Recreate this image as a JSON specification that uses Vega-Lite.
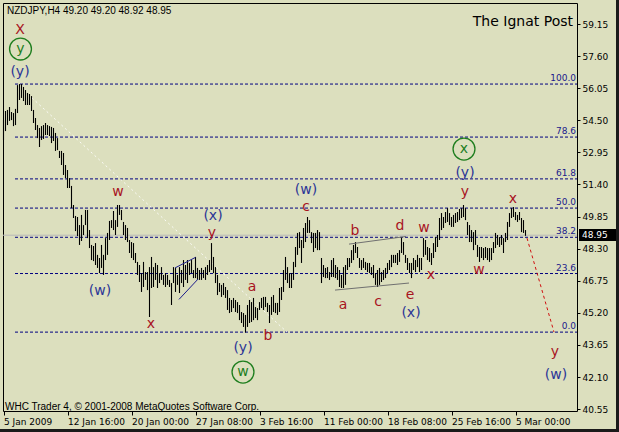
{
"$schema": "https://vega.github.io/schema/vega-lite/v6.json",
"width": 574, "height": 408,
"autosize": {"type": "none"},
"padding": {"left": 3, "top": 3, "right": 42, "bottom": 21},
"background": "#DCDFBE",
"config": {"view": {"stroke": "#000000", "strokeWidth": 1, "fill": "#DCDFBE"}, "font": "DejaVu Sans"},
"datasets": {
"one": [{}],
"bars": [
{"i":0,"h":54.51,"l":53.55},{"i":1,"h":54.95,"l":53.98},{"i":2,"h":55.00,"l":54.27},{"i":3,"h":55.14,"l":54.47},{"i":4,"h":54.90,"l":54.51},{"i":5,"h":54.85,"l":54.22},{"i":6,"h":55.05,"l":54.27},{"i":7,"h":56.20,"l":54.85},{"i":8,"h":56.25,"l":55.48},{"i":9,"h":56.25,"l":55.58},
{"i":10,"h":56.11,"l":55.43},{"i":11,"h":55.96,"l":55.24},{"i":12,"h":55.82,"l":55.24},{"i":13,"h":55.77,"l":55.24},{"i":14,"h":55.67,"l":54.95},{"i":15,"h":55.00,"l":54.37},{"i":16,"h":54.61,"l":54.03},{"i":17,"h":54.27,"l":53.64},{"i":18,"h":54.13,"l":53.21},{"i":19,"h":54.22,"l":53.55},
{"i":20,"h":54.27,"l":53.60},{"i":21,"h":54.37,"l":53.79},{"i":22,"h":54.27,"l":53.79},{"i":23,"h":54.22,"l":53.74},{"i":24,"h":54.18,"l":53.40},{"i":25,"h":54.13,"l":53.50},{"i":26,"h":53.89,"l":53.02},{"i":27,"h":53.64,"l":53.06},{"i":28,"h":53.02,"l":52.68},{"i":29,"h":53.02,"l":52.34},
{"i":30,"h":52.92,"l":51.86},{"i":31,"h":52.34,"l":51.71},{"i":32,"h":52.10,"l":51.23},{"i":33,"h":51.71,"l":51.23},{"i":34,"h":51.33,"l":50.26},{"i":35,"h":50.41,"l":49.78},{"i":36,"h":49.88,"l":49.15},{"i":37,"h":49.83,"l":48.91},{"i":38,"h":49.44,"l":48.48},{"i":39,"h":49.93,"l":48.67},
{"i":40,"h":49.44,"l":48.96},{"i":41,"h":50.17,"l":49.44},{"i":42,"h":50.17,"l":48.81},{"i":43,"h":49.20,"l":48.33},{"i":44,"h":48.48,"l":47.75},{"i":45,"h":48.43,"l":47.70},{"i":46,"h":48.57,"l":47.51},{"i":47,"h":48.00,"l":47.37},{"i":48,"h":47.85,"l":47.12},{"i":49,"h":48.48,"l":47.37},
{"i":50,"h":48.00,"l":47.03},{"i":51,"h":48.81,"l":47.75},{"i":52,"h":49.06,"l":48.00},{"i":53,"h":49.64,"l":48.72},{"i":54,"h":49.68,"l":49.30},{"i":55,"h":50.12,"l":49.20},{"i":56,"h":49.68,"l":48.96},{"i":57,"h":50.41,"l":49.35},{"i":58,"h":50.41,"l":49.93},{"i":59,"h":50.17,"l":49.68},
{"i":60,"h":49.59,"l":48.96},{"i":61,"h":49.44,"l":48.72},{"i":62,"h":49.30,"l":48.62},{"i":63,"h":48.72,"l":48.09},{"i":64,"h":48.62,"l":47.85},{"i":65,"h":48.57,"l":47.75},{"i":66,"h":48.09,"l":47.61},{"i":67,"h":47.66,"l":47.03},{"i":68,"h":47.51,"l":46.69},{"i":69,"h":47.12,"l":46.21},
{"i":70,"h":47.66,"l":46.45},{"i":71,"h":47.17,"l":46.79},{"i":72,"h":47.17,"l":46.30},{"i":73,"h":47.41,"l":45.00},{"i":74,"h":47.90,"l":46.40},{"i":75,"h":47.41,"l":46.45},{"i":76,"h":47.61,"l":46.79},{"i":77,"h":47.51,"l":46.40},{"i":78,"h":47.12,"l":46.64},{"i":79,"h":47.41,"l":46.79},
{"i":80,"h":47.03,"l":46.55},{"i":81,"h":47.12,"l":46.45},{"i":82,"h":47.03,"l":46.55},{"i":83,"h":46.79,"l":46.45},{"i":84,"h":46.64,"l":45.58},{"i":85,"h":47.41,"l":46.64},{"i":86,"h":47.37,"l":46.21},{"i":87,"h":47.03,"l":46.55},{"i":88,"h":47.41,"l":46.16},{"i":89,"h":47.27,"l":46.64},
{"i":90,"h":47.75,"l":46.45},{"i":91,"h":47.51,"l":46.79},{"i":92,"h":47.75,"l":46.64},{"i":93,"h":47.61,"l":47.03},{"i":94,"h":47.75,"l":47.12},{"i":95,"h":47.27,"l":46.88},{"i":96,"h":47.90,"l":46.88},{"i":97,"h":47.37,"l":46.79},{"i":98,"h":47.27,"l":46.79},{"i":99,"h":47.37,"l":46.79},
{"i":100,"h":47.27,"l":46.88},{"i":101,"h":47.41,"l":46.79},{"i":102,"h":47.51,"l":47.03},{"i":103,"h":47.75,"l":47.17},{"i":104,"h":48.57,"l":47.27},{"i":105,"h":47.90,"l":47.12},{"i":106,"h":47.41,"l":46.64},{"i":107,"h":47.03,"l":46.06},{"i":108,"h":46.64,"l":46.21},{"i":109,"h":46.55,"l":45.97},
{"i":110,"h":46.64,"l":46.06},{"i":111,"h":46.45,"l":45.92},{"i":112,"h":46.30,"l":45.34},{"i":113,"h":45.92,"l":45.19},{"i":114,"h":45.82,"l":45.24},{"i":115,"h":45.92,"l":45.43},{"i":116,"h":45.82,"l":45.24},{"i":117,"h":45.72,"l":45.19},{"i":118,"h":45.58,"l":44.85},{"i":119,"h":45.24,"l":44.71},
{"i":120,"h":45.19,"l":44.52},{"i":121,"h":45.10,"l":44.25},{"i":122,"h":45.58,"l":44.52},{"i":123,"h":45.82,"l":44.71},{"i":124,"h":45.72,"l":44.76},{"i":125,"h":45.92,"l":44.85},{"i":126,"h":45.48,"l":44.95},{"i":127,"h":45.43,"l":44.85},{"i":128,"h":45.72,"l":45.34},{"i":129,"h":45.92,"l":45.43},
{"i":130,"h":45.97,"l":45.34},{"i":131,"h":45.97,"l":45.48},{"i":132,"h":45.68,"l":45.24},{"i":133,"h":45.58,"l":44.71},{"i":134,"h":45.97,"l":45.10},{"i":135,"h":46.06,"l":45.24},{"i":136,"h":45.68,"l":45.19},{"i":137,"h":45.68,"l":45.10},{"i":138,"h":46.40,"l":45.24},{"i":139,"h":46.45,"l":45.82},
{"i":140,"h":47.27,"l":46.21},{"i":141,"h":47.90,"l":46.79},{"i":142,"h":47.41,"l":46.64},{"i":143,"h":47.12,"l":46.40},{"i":144,"h":47.12,"l":46.40},{"i":145,"h":47.66,"l":46.79},{"i":146,"h":48.38,"l":47.41},{"i":147,"h":49.06,"l":48.00},{"i":148,"h":49.10,"l":48.33},{"i":149,"h":48.72,"l":47.61},
{"i":150,"h":49.30,"l":48.33},{"i":151,"h":49.54,"l":48.62},{"i":152,"h":49.83,"l":49.06},{"i":153,"h":49.68,"l":49.06},{"i":154,"h":49.10,"l":48.57},{"i":155,"h":49.06,"l":48.14},{"i":156,"h":49.06,"l":48.33},{"i":157,"h":49.20,"l":48.23},{"i":158,"h":49.10,"l":48.23},{"i":159,"h":47.85,"l":46.64},
{"i":160,"h":47.51,"l":46.93},{"i":161,"h":47.37,"l":46.88},{"i":162,"h":47.41,"l":46.88},{"i":163,"h":47.17,"l":46.79},{"i":164,"h":47.75,"l":46.93},{"i":165,"h":47.85,"l":46.93},{"i":166,"h":47.51,"l":46.88},{"i":167,"h":47.41,"l":46.79},{"i":168,"h":47.27,"l":46.45},{"i":169,"h":47.03,"l":46.40},
{"i":170,"h":47.41,"l":46.40},{"i":171,"h":47.51,"l":46.55},{"i":172,"h":47.85,"l":47.27},{"i":173,"h":47.85,"l":47.41},{"i":174,"h":48.23,"l":47.61},{"i":175,"h":48.48,"l":47.75},{"i":176,"h":48.62,"l":48.09},{"i":177,"h":48.38,"l":47.85},{"i":178,"h":47.85,"l":47.37},{"i":179,"h":47.75,"l":47.27},
{"i":180,"h":47.85,"l":47.37},{"i":181,"h":47.66,"l":47.27},{"i":182,"h":47.61,"l":47.17},{"i":183,"h":47.61,"l":47.12},{"i":184,"h":47.41,"l":47.03},{"i":185,"h":47.51,"l":46.88},{"i":186,"h":47.12,"l":46.55},{"i":187,"h":47.27,"l":46.45},{"i":188,"h":47.37,"l":46.55},{"i":189,"h":47.17,"l":46.69},
{"i":190,"h":47.27,"l":46.79},{"i":191,"h":47.37,"l":46.88},{"i":192,"h":47.61,"l":47.12},{"i":193,"h":47.75,"l":47.27},{"i":194,"h":48.00,"l":47.41},{"i":195,"h":48.00,"l":47.61},{"i":196,"h":48.00,"l":47.61},{"i":197,"h":48.09,"l":47.51},{"i":198,"h":48.23,"l":47.66},{"i":199,"h":48.86,"l":48.09},
{"i":200,"h":48.62,"l":48.00},{"i":201,"h":48.00,"l":47.61},{"i":202,"h":47.85,"l":47.27},{"i":203,"h":47.61,"l":47.12},{"i":204,"h":47.61,"l":46.88},{"i":205,"h":47.85,"l":47.27},{"i":206,"h":47.75,"l":47.17},{"i":207,"h":48.00,"l":47.41},{"i":208,"h":47.85,"l":47.17},{"i":209,"h":47.85,"l":47.27},
{"i":210,"h":48.81,"l":47.90},{"i":211,"h":48.72,"l":48.00},{"i":212,"h":48.38,"l":47.75},{"i":213,"h":48.33,"l":47.66},{"i":214,"h":48.09,"l":47.51},{"i":215,"h":48.57,"l":47.85},{"i":216,"h":48.86,"l":48.14},{"i":217,"h":48.96,"l":48.38},{"i":218,"h":49.78,"l":48.72},{"i":219,"h":50.02,"l":49.20},
{"i":220,"h":49.83,"l":49.30},{"i":221,"h":50.07,"l":49.54},{"i":222,"h":50.26,"l":49.59},{"i":223,"h":50.02,"l":49.44},{"i":224,"h":49.83,"l":49.35},{"i":225,"h":49.93,"l":49.35},{"i":226,"h":50.02,"l":49.54},{"i":227,"h":50.07,"l":49.59},{"i":228,"h":50.22,"l":49.68},{"i":229,"h":50.26,"l":49.78},
{"i":230,"h":50.41,"l":49.83},{"i":231,"h":50.26,"l":49.68},{"i":232,"h":49.59,"l":48.96},{"i":233,"h":49.44,"l":48.62},{"i":234,"h":49.20,"l":48.62},{"i":235,"h":49.10,"l":48.23},{"i":236,"h":49.20,"l":48.48},{"i":237,"h":48.48,"l":47.90},{"i":238,"h":48.38,"l":47.66},{"i":239,"h":48.38,"l":47.85},
{"i":240,"h":48.33,"l":47.75},{"i":241,"h":48.38,"l":47.85},{"i":242,"h":48.33,"l":47.75},{"i":243,"h":48.33,"l":47.66},{"i":244,"h":48.33,"l":47.75},{"i":245,"h":48.62,"l":48.09},{"i":246,"h":49.06,"l":48.33},{"i":247,"h":48.96,"l":48.48},{"i":248,"h":48.86,"l":48.38},{"i":249,"h":48.96,"l":48.48},
{"i":250,"h":48.81,"l":48.09},{"i":251,"h":49.06,"l":48.62},{"i":252,"h":49.59,"l":48.72},{"i":253,"h":50.02,"l":49.35},{"i":254,"h":50.26,"l":49.78},{"i":255,"h":50.31,"l":49.83},{"i":256,"h":50.07,"l":49.68},{"i":257,"h":49.93,"l":49.59},{"i":258,"h":50.07,"l":49.68},{"i":259,"h":49.78,"l":49.10},
{"i":260,"h":49.68,"l":49.06},{"i":261,"h":49.20,"l":48.92}
],
"fib": [
{"lv":"100.0","p":56.25,"s":5.75,"e":286.75},{"lv":"78.6","p":53.69,"s":5.75,"e":286.75},{"lv":"61.8","p":51.67,"s":5.75,"e":286.75},{"lv":"50.0","p":50.26,"s":5.75,"e":286.75},{"lv":"38.2","p":48.85,"s":5.75,"e":286.75},{"lv":"23.6","p":47.10,"s":5.75,"e":286.75},{"lv":"0.0","p":44.27,"s":5.75,"e":286.75}
],
"lines": [
{"g":"diag","i":14.25,"p":55.58},{"g":"diag","i":141.75,"p":44.27},
{"g":"w1","i":85.75,"p":47.37},{"g":"w1","i":96,"p":47.88},
{"g":"w2","i":87.75,"p":45.85},{"g":"w2","i":97.25,"p":46.83},
{"g":"t1","i":172.75,"p":48.52},{"g":"t1","i":201.25,"p":48.89},
{"g":"t2","i":165.75,"p":46.30},{"g":"t2","i":202.75,"p":46.64},
{"g":"proj","i":261.75,"p":48.81},{"g":"proj","i":275.25,"p":44.27}
],
"labels": [
{"i":8.25,"p":58.86,"t":"X","c":"r"},
{"i":8.5,"p":57.94,"t":"y","c":"g"},
{"i":8.25,"p":56.83,"t":"(y)","c":"b"},
{"i":57.25,"p":51.04,"t":"w","c":"r"},
{"i":48.25,"p":46.25,"t":"(w)","c":"b"},
{"i":73.75,"p":44.66,"t":"x","c":"r"},
{"i":104.75,"p":49.88,"t":"(x)","c":"b"},
{"i":104.25,"p":49.06,"t":"y","c":"r"},
{"i":124.25,"p":46.45,"t":"a","c":"r"},
{"i":119.75,"p":43.5,"t":"(y)","c":"b"},
{"i":132.25,"p":44.08,"t":"b","c":"r"},
{"i":119.75,"p":42.34,"t":"w","c":"g"},
{"i":151.25,"p":51.13,"t":"(w)","c":"b"},
{"i":151.25,"p":50.31,"t":"c","c":"r"},
{"i":175.75,"p":49.15,"t":"b","c":"r"},
{"i":169.75,"p":45.58,"t":"a","c":"r"},
{"i":187.25,"p":45.72,"t":"c","c":"r"},
{"i":198.25,"p":49.39,"t":"d","c":"r"},
{"i":203.25,"p":46.06,"t":"e","c":"r"},
{"i":203.75,"p":45.19,"t":"(x)","c":"b"},
{"i":210.25,"p":49.3,"t":"w","c":"r"},
{"i":213.75,"p":47.03,"t":"x","c":"r"},
{"i":230.25,"p":53.11,"t":"x","c":"g"},
{"i":230.75,"p":51.95,"t":"(y)","c":"b"},
{"i":230.75,"p":51.04,"t":"y","c":"r"},
{"i":237.75,"p":47.27,"t":"w","c":"r"},
{"i":254.75,"p":50.7,"t":"x","c":"r"},
{"i":275.75,"p":43.31,"t":"y","c":"r"},
{"i":276.25,"p":42.2,"t":"(w)","c":"b"}
],
"circles": [
{"i":8.5,"p":57.94},{"i":119.75,"p":42.34},{"i":230.25,"p":53.11}
],
"texts": [
{"i":1.75,"p":59.78,"t":"NZDJPY,H4  49.20 49.20 48.92 48.95"},
{"i":0.75,"p":40.66,"t":"WHC Trader 4, © 2001-2008 MetaQuotes Software Corp."}
],
"frame": [
{"x1":306.25,"x2":307.75,"y1":60.31,"y2":39.45},
{"x1":-1.75,"x2":307.75,"y1":39.59,"y2":39.45}
]
},
"layer": [
{
"data": {"name": "bars"},
"mark": {"type": "rule", "color": "#000000", "strokeWidth": 1, "opacity": 0},
"encoding": {
"x": {"field": "i", "type": "quantitative", "scale": {"domain": [-0.25, 286.75], "nice": false, "zero": false},
"axis": {"orient": "bottom", "values": [0, 32, 64, 96, 128, 160, 192, 224, 256], "tickCount": 30, "labelExpr": "datum.value==0?'5 Jan 2009':datum.value==32?'12 Jan 16:00':datum.value==64?'20 Jan 00:00':datum.value==96?'27 Jan 08:00':datum.value==128?'3 Feb 16:00':datum.value==160?'11 Feb 00:00':datum.value==192?'18 Feb 08:00':datum.value==224?'25 Feb 16:00':'5 Mar 00:00'", "labelAlign": "left", "labelBaseline": "top", "labelFlush": false, "labelOverlap": false, "tickSize": 4, "tickColor": "#000000", "labelColor": "#000000", "labelFont": "DejaVu Sans", "labelFontSize": 9, "labelPadding": 2, "domain": false, "grid": false, "title": null}},
"y": {"field": "l", "type": "quantitative", "scale": {"domain": [40.46, 60.165], "nice": false, "zero": false},
"axis": {"orient": "right", "values": [40.55, 42.1, 43.65, 45.2, 46.75, 48.3, 49.85, 51.4, 52.95, 54.5, 56.05, 57.6, 59.15], "tickCount": 30, "format": ".2f", "labelOverlap": false, "labelBound": false, "tickSize": 3, "tickColor": "#000000", "labelColor": "#000000", "labelFont": "DejaVu Sans", "labelFontSize": 9, "labelPadding": 2, "domain": false, "grid": false, "title": null}},
"y2": {"field": "h"}
}
},
{
"data": {"name": "one"},
"mark": {"type": "rule", "color": "#B8B8B8", "strokeWidth": 1},
"encoding": {
"y": {"datum": 48.95, "type": "quantitative", "title": null}
}
},
{
"data": {"name": "fib"},
"mark": {"type": "rule", "color": "#000080", "strokeWidth": 1, "strokeDash": [3, 2]},
"encoding": {
"x": {"field": "s", "type": "quantitative", "title": null},
"x2": {"field": "e"},
"y": {"field": "p", "type": "quantitative", "title": null}
}
},
{
"data": {"name": "fib"},
"mark": {"type": "text", "color": "#1A1A8C", "font": "DejaVu Sans", "fontSize": 9, "align": "right", "baseline": "bottom", "dy": -1},
"encoding": {
"x": {"datum": 286.25, "type": "quantitative", "title": null},
"y": {"field": "p", "type": "quantitative", "title": null},
"text": {"field": "lv"}
}
},
{
"data": {"name": "lines"},
"transform": [{"filter": "datum.g == 'diag'"}],
"mark": {"type": "line", "color": "#FFFFFF", "strokeWidth": 1, "strokeDash": [2, 3], "opacity": 0.85},
"encoding": {
"x": {"field": "i", "type": "quantitative", "title": null},
"y": {"field": "p", "type": "quantitative", "title": null},
"detail": {"field": "g"}
}
},
{
"data": {"name": "bars"},
"mark": {"type": "rule", "color": "#000000", "strokeWidth": 1.1},
"encoding": {
"x": {"field": "i", "type": "quantitative", "title": null},
"y": {"field": "l", "type": "quantitative", "title": null},
"y2": {"field": "h"}
}
},
{
"data": {"name": "lines"},
"transform": [{"filter": "datum.g == 'w1' || datum.g == 'w2'"}],
"mark": {"type": "line", "color": "#1C1C8C", "strokeWidth": 1},
"encoding": {
"x": {"field": "i", "type": "quantitative", "title": null},
"y": {"field": "p", "type": "quantitative", "title": null},
"detail": {"field": "g"}
}
},
{
"data": {"name": "lines"},
"transform": [{"filter": "datum.g == 't1' || datum.g == 't2'"}],
"mark": {"type": "line", "color": "#707070", "strokeWidth": 1},
"encoding": {
"x": {"field": "i", "type": "quantitative", "title": null},
"y": {"field": "p", "type": "quantitative", "title": null},
"detail": {"field": "g"}
}
},
{
"data": {"name": "lines"},
"transform": [{"filter": "datum.g == 'proj'"}],
"mark": {"type": "line", "color": "#D01010", "strokeWidth": 1, "strokeDash": [3, 3]},
"encoding": {
"x": {"field": "i", "type": "quantitative", "title": null},
"y": {"field": "p", "type": "quantitative", "title": null}
}
},
{
"data": {"name": "circles"},
"mark": {"type": "point", "shape": "circle", "size": 480, "filled": false, "color": "#1E7E1E", "strokeWidth": 1.3, "opacity": 1},
"encoding": {
"x": {"field": "i", "type": "quantitative", "title": null},
"y": {"field": "p", "type": "quantitative", "title": null}
}
},
{
"data": {"name": "labels"},
"mark": {"type": "text", "font": "DejaVu Sans", "fontSize": 14, "align": "center", "baseline": "middle"},
"encoding": {
"x": {"field": "i", "type": "quantitative", "title": null},
"y": {"field": "p", "type": "quantitative", "title": null},
"text": {"field": "t"},
"color": {"field": "c", "type": "nominal", "scale": {"domain": ["r", "b", "g"], "range": ["#A8141E", "#2B3596", "#1E7E1E"]}, "legend": null}
}
},
{
"data": {"name": "texts"},
"mark": {"type": "text", "font": "Liberation Sans", "fontSize": 10, "align": "left", "baseline": "middle", "color": "#000000"},
"encoding": {
"x": {"field": "i", "type": "quantitative", "title": null},
"y": {"field": "p", "type": "quantitative", "title": null},
"text": {"field": "t"}
}
},
{
"data": {"name": "one"},
"mark": {"type": "text", "font": "DejaVu Sans", "fontSize": 14, "align": "right", "baseline": "middle", "color": "#000000", "text": "The Ignat Post"},
"encoding": {
"x": {"datum": 284.75, "type": "quantitative", "title": null},
"y": {"datum": 59.25, "type": "quantitative", "title": null}
}
},
{
"data": {"name": "one"},
"mark": {"type": "rect", "color": "#000000"},
"encoding": {
"x": {"datum": 287.75, "type": "quantitative", "title": null},
"x2": {"datum": 306.75},
"y": {"datum": 49.25, "type": "quantitative", "title": null},
"y2": {"datum": 48.67}
}
},
{
"data": {"name": "one"},
"mark": {"type": "text", "font": "DejaVu Sans", "fontSize": 9, "align": "left", "baseline": "middle", "color": "#FFFFFF", "text": "48.95"},
"encoding": {
"x": {"datum": 289.25, "type": "quantitative", "title": null},
"y": {"datum": 48.95, "type": "quantitative", "title": null}
}
},
{
"data": {"name": "frame"},
"mark": {"type": "rect", "color": "#1A1A1A"},
"encoding": {
"x": {"field": "x1", "type": "quantitative", "title": null},
"x2": {"field": "x2"},
"y": {"field": "y1", "type": "quantitative", "title": null},
"y2": {"field": "y2"}
}
}
]
}
